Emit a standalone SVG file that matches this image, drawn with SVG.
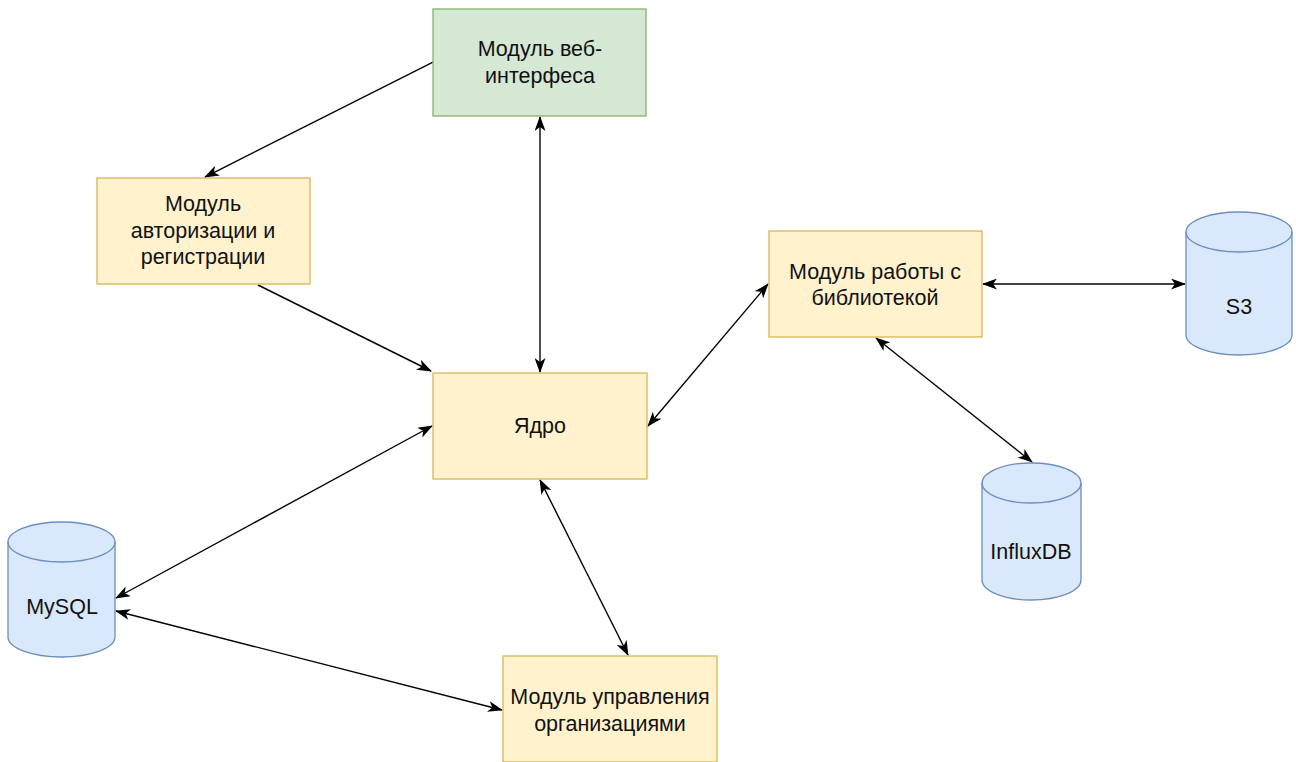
<svg xmlns="http://www.w3.org/2000/svg" width="1296" height="762" viewBox="0 0 1296 762">
<defs>
<style>
.y{fill:#fff2cc;stroke:#d6b656;stroke-width:1.3}
.g{fill:#d5e8d4;stroke:#82b366;stroke-width:1.3}
.b{fill:#dae8fc;stroke:#6c8ebf;stroke-width:1.3}
.bl{fill:none;stroke:#6c8ebf;stroke-width:1.3}
.t{font-family:"Liberation Sans",Arial,sans-serif;font-size:21.5px;fill:#111;text-anchor:middle;dominant-baseline:central}
.c{stroke:#000;stroke-width:1.4;fill:none}
.s{marker-end:url(#a)}
.d{marker-start:url(#a);marker-end:url(#a)}
</style>
<marker id="a" viewBox="0 0 15 11" refX="14" refY="5.5" markerWidth="15" markerHeight="11" markerUnits="userSpaceOnUse" orient="auto-start-reverse">
<path d="M0,0 L15,5.5 L0,11 L4,5.5 Z" fill="#000"/>
</marker>
</defs>
<rect width="1296" height="762" fill="#fff"/>
<g id="connectors">
<line class="c s" x1="433" y1="62" x2="205" y2="177"/>
<line class="c d" x1="540" y1="117" x2="540" y2="372"/>
<line class="c s" x1="258" y1="285" x2="431" y2="371"/>
<line class="c d" x1="432" y1="426" x2="116" y2="598"/>
<line class="c d" x1="116" y1="611" x2="502" y2="710"/>
<line class="c d" x1="540" y1="480" x2="628" y2="655"/>
<line class="c d" x1="648" y1="426" x2="768" y2="284"/>
<line class="c d" x1="983" y1="284" x2="1185" y2="284"/>
<line class="c d" x1="876" y1="338" x2="1032" y2="462"/>
</g>
<g id="web">
<rect class="g" x="433" y="9" width="213" height="107"/>
<text class="t" x="540" y="49">Модуль веб-</text>
<text class="t" x="540" y="76">интерфеса</text>
</g>
<g id="auth">
<rect class="y" x="97" y="178" width="213" height="106"/>
<text class="t" x="203" y="204">Модуль</text>
<text class="t" x="203" y="231">авторизации и</text>
<text class="t" x="203" y="257">регистрации</text>
</g>
<g id="core">
<rect class="y" x="433" y="373" width="214" height="106"/>
<text class="t" x="540" y="426">Ядро</text>
</g>
<g id="library">
<rect class="y" x="769" y="231" width="213" height="106"/>
<text class="t" x="875" y="272">Модуль работы с</text>
<text class="t" x="875" y="298">библиотекой</text>
</g>
<g id="org">
<rect class="y" x="503" y="656" width="214" height="106"/>
<text class="t" x="610" y="697">Модуль управления</text>
<text class="t" x="610" y="724">организациями</text>
</g>
<g id="mysql">
<path class="b" d="M8,542 a53.5,20 0 0 1 107,0 v95 a53.5,20 0 0 1 -107,0 Z"/>
<path class="bl" d="M8,542 a53.5,20 0 0 0 107,0"/>
<text class="t" x="62" y="607">MySQL</text>
</g>
<g id="influxdb">
<path class="b" d="M982,483 a49.5,20 0 0 1 99,0 v97 a49.5,20 0 0 1 -99,0 Z"/>
<path class="bl" d="M982,483 a49.5,20 0 0 0 99,0"/>
<text class="t" x="1031" y="552">InfluxDB</text>
</g>
<g id="s3">
<path class="b" d="M1186,232 a53,20 0 0 1 106,0 v103 a53,20 0 0 1 -106,0 Z"/>
<path class="bl" d="M1186,232 a53,20 0 0 0 106,0"/>
<text class="t" x="1239" y="307">S3</text>
</g>
</svg>
